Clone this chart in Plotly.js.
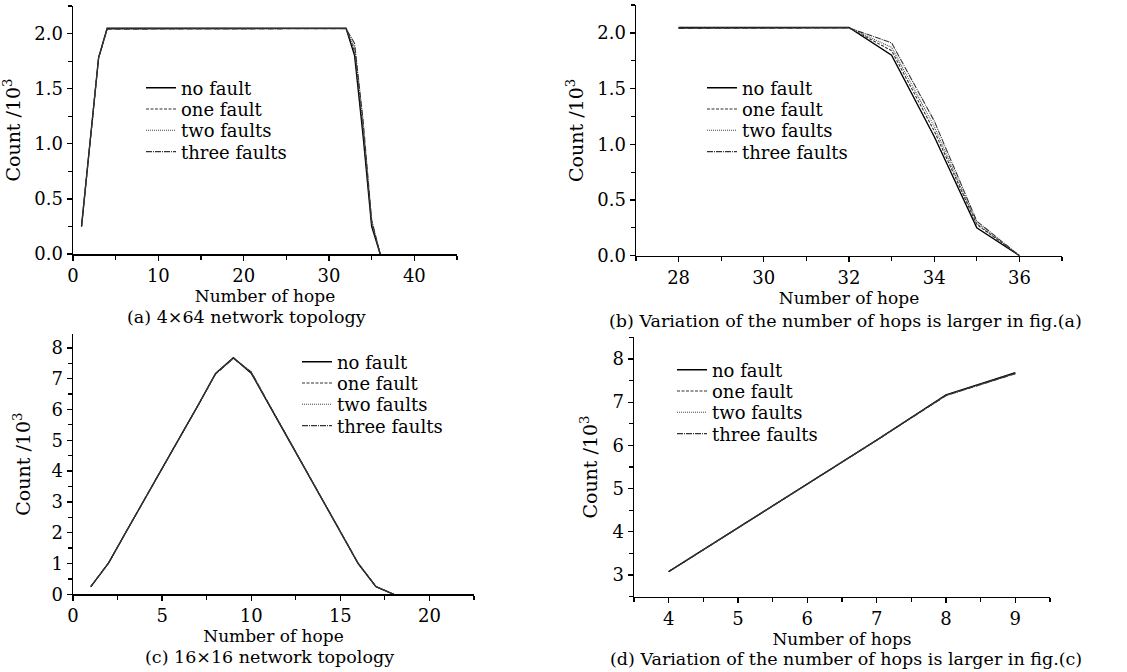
<!DOCTYPE html>
<html>
<head>
<meta charset="utf-8">
<script src="https://cdn.plot.ly/plotly-3.0.1.min.js"></script>
<style>html,body{margin:0;padding:0;background:#fff;}#chart{width:1127px;height:672px;}</style>
</head>
<body>
<div id="chart"></div>
<script>
// ---------- data ----------
var seriesNames = ["no fault", "one fault", "two faults", "three faults"];

// (a) 4x64 network topology
var hopsA = [1,2,3,4,5,6,7,8,9,10,11,12,13,14,15,16,17,18,19,20,21,22,23,24,25,26,27,28,29,30,31,32,33,34,35,36];
var aNoFault    = [0.25,1.00,1.78,2.048,2.048,2.048,2.048,2.048,2.048,2.048,2.048,2.048,2.048,2.048,2.048,2.048,2.048,2.048,2.048,2.048,2.048,2.048,2.048,2.048,2.048,2.048,2.048,2.048,2.048,2.048,2.048,2.048,1.80,1.07,0.25,0];
var aOneFault   = [0.25,1.00,1.78,2.044,2.044,2.044,2.044,2.044,2.044,2.044,2.044,2.044,2.044,2.044,2.044,2.044,2.044,2.044,2.044,2.044,2.044,2.044,2.044,2.044,2.044,2.044,2.044,2.044,2.044,2.044,2.044,2.046,1.84,1.12,0.28,0];
var aTwoFaults  = [0.25,1.00,1.78,2.042,2.042,2.042,2.042,2.042,2.042,2.042,2.042,2.042,2.042,2.042,2.042,2.042,2.042,2.042,2.042,2.042,2.042,2.042,2.042,2.042,2.042,2.042,2.042,2.042,2.042,2.042,2.042,2.045,1.87,1.16,0.29,0];
var aThreeFaults= [0.25,1.00,1.78,2.040,2.040,2.040,2.040,2.040,2.040,2.040,2.040,2.040,2.040,2.040,2.040,2.040,2.040,2.040,2.040,2.040,2.040,2.040,2.040,2.040,2.040,2.040,2.040,2.040,2.040,2.040,2.040,2.044,1.91,1.21,0.31,0];

// (b) zoom of (a), hops 28-36
var hopsB = [28,29,30,31,32,33,34,35,36];
var bNoFault     = [2.048,2.048,2.048,2.048,2.048,1.80,1.07,0.25,0];
var bOneFault    = [2.044,2.044,2.044,2.044,2.046,1.84,1.12,0.28,0];
var bTwoFaults   = [2.042,2.042,2.042,2.042,2.045,1.87,1.16,0.29,0];
var bThreeFaults = [2.040,2.040,2.040,2.040,2.044,1.91,1.21,0.31,0];

// (c) 16x16 network topology
var hopsC = [1,2,3,4,5,6,7,8,9,10,11,12,13,14,15,16,17,18];
var cNoFault     = [0.25,1.02,2.05,3.08,4.09,5.10,6.12,7.17,7.68,7.18,6.15,5.12,4.10,3.08,2.05,1.00,0.25,0];
var cOneFault    = [0.25,1.02,2.05,3.08,4.09,5.10,6.12,7.16,7.67,7.20,6.16,5.13,4.10,3.08,2.05,1.00,0.25,0];
var cTwoFaults   = [0.25,1.02,2.05,3.08,4.09,5.10,6.12,7.16,7.66,7.21,6.17,5.13,4.11,3.08,2.05,1.00,0.25,0];
var cThreeFaults = [0.25,1.02,2.05,3.08,4.09,5.10,6.12,7.15,7.66,7.22,6.17,5.14,4.11,3.09,2.06,1.01,0.25,0];

// (d) zoom of (c), hops 4-9
var hopsD = [4,5,6,7,8,9];
var dNoFault     = [3.08,4.09,5.10,6.12,7.17,7.68];
var dOneFault    = [3.08,4.09,5.10,6.12,7.16,7.67];
var dTwoFaults   = [3.08,4.09,5.10,6.12,7.16,7.66];
var dThreeFaults = [3.08,4.09,5.10,6.12,7.15,7.66];

// tick / axis labels
var xTitleAC = "Number of hope";
var xTitleB = "Number of hope";
var xTitleD = "Number of hops";
var yTitle = "Count /10<sup>3</sup>";
var captions = ["(a) 4×64 network topology",
                "(b) Variation of the number of hops is larger in fig.(a)",
                "(c) 16×16 network topology",
                "(d) Variation of the number of hops is larger in fig.(c)"];

// ---------- styling ----------
var W = 1127, H = 672;
var FONT = "DejaVu Serif";
var styles = [
  {color: "#000", width: 1.4, dash: "solid"},
  {color: "#333", width: 1.1, dash: "3px,1.5px"},
  {color: "#444", width: 1.1, dash: "1px,1px"},
  {color: "#333", width: 1.1, dash: "6px,1px,1px,1px"}
];

var panels = [
  {x: hopsA, ys: [aNoFault,aOneFault,aTwoFaults,aThreeFaults], ax: "x", ay: "y",
   legX: 141, legY: 88, legSp: 21.3},
  {x: hopsB, ys: [bNoFault,bOneFault,bTwoFaults,bThreeFaults], ax: "x2", ay: "y2",
   legX: 702, legY: 88, legSp: 21.3},
  {x: hopsC, ys: [cNoFault,cOneFault,cTwoFaults,cThreeFaults], ax: "x3", ay: "y3",
   legX: 297, legY: 362, legSp: 21.3},
  {x: hopsD, ys: [dNoFault,dOneFault,dTwoFaults,dThreeFaults], ax: "x4", ay: "y4",
   legX: 672, legY: 370, legSp: 21.3}
];

var data = [];
var layout = {
  width: W, height: H,
  margin: {l: 0, r: 0, t: 0, b: 0},
  paper_bgcolor: "#fff", plot_bgcolor: "#fff",
  font: {family: FONT, size: 17, color: "#000"},
  showlegend: true,
  annotations: []
};

var legendCount = 0;
panels.forEach(function(p, pi) {
  p.ys.forEach(function(yv, si) {
    legendCount++;
    var lname = legendCount === 1 ? "legend" : "legend" + legendCount;
    data.push({
      type: "scatter", mode: "lines",
      x: p.x, y: yv, name: seriesNames[si],
      xaxis: p.ax, yaxis: p.ay,
      line: {color: styles[si].color, width: styles[si].width, dash: styles[si].dash},
      legend: lname,
      hoverinfo: "x+y+name"
    });
    layout[lname] = {
      x: p.legX / W, y: 1 - (p.legY + si * p.legSp) / H,
      xanchor: "left", yanchor: "middle",
      bgcolor: "rgba(0,0,0,0)", borderwidth: 0,
      itemwidth: 30,
      font: {family: FONT, size: 18, color: "#000"}
    };
  });
});

function xAxis(domain, range, dtick, minorDtick, title, anchor) {
  return {
    domain: domain, range: range, anchor: anchor,
    showline: true, linecolor: "#000", linewidth: 1.5,
    ticks: "outside", ticklen: 5, tickwidth: 1.3, tickcolor: "#000",
    dtick: dtick, tick0: 0,
    minor: {dtick: minorDtick, ticks: "outside", ticklen: 4, tickwidth: 1.2, tickcolor: "#000"},
    showgrid: false, zeroline: false,
    tickfont: {family: FONT, size: 18, color: "#000"},
    title: {text: title, font: {family: FONT, size: 17, color: "#000"}, standoff: 0}
  };
}
function yAxis(domain, range, dtick, minorDtick, fmt, anchor, standoff) {
  return {
    domain: domain, range: range, anchor: anchor,
    showline: true, linecolor: "#000", linewidth: 1.5,
    ticks: "outside", ticklen: 5, tickwidth: 1.3, tickcolor: "#000",
    dtick: dtick, tick0: 0, tickformat: fmt,
    minor: {dtick: minorDtick, ticks: "outside", ticklen: 4, tickwidth: 1.2, tickcolor: "#000"},
    showgrid: false, zeroline: false,
    tickfont: {family: FONT, size: 18, color: "#000"},
    title: {text: yTitle, font: {family: FONT, size: 19, color: "#000"}, standoff: standoff}
  };
}

layout.xaxis  = xAxis([73/W, 457/W], [0, 45], 10, 5, xTitleAC, "y");
layout.yaxis  = yAxis([1-254/H, 1-6/H], [0, 2.25], 0.5, 0.25, ".1f", "x", 10);
layout.xaxis2 = xAxis([636/W, 1062/W], [27, 37], 2, 1, xTitleB, "y2");
layout.yaxis2 = yAxis([1-255.7/H, 1-5/H], [0, 2.25], 0.5, 0.25, ".1f", "x2", 8);
layout.xaxis3 = xAxis([73/W, 474/W], [0, 22.5], 5, 2.5, xTitleAC, "y3");
layout.yaxis3 = yAxis([1-594.3/H, 1-334/H], [0, 8.45], 1, 0.5, "d", "x3", 16);
layout.xaxis4 = xAxis([634/W, 1050/W], [3.5, 9.5], 1, 0.5, xTitleD, "y4");
layout.yaxis4 = yAxis([1-596.7/H, 1-337.3/H], [2.5, 8.5], 1, 0.5, "d", "x4", 10);

var capPos = [[246, 317], [845, 321], [269, 657], [846, 659]];
captions.forEach(function(c, i) {
  layout.annotations.push({
    text: c, xref: "paper", yref: "paper",
    x: capPos[i][0] / W, y: 1 - capPos[i][1] / H,
    xanchor: "center", yanchor: "middle", showarrow: false,
    font: {family: FONT, size: 17.5, color: "#000"}
  });
});

Plotly.newPlot("chart", data, layout, {staticPlot: true, displayModeBar: false});
</script>
</body>
</html>
